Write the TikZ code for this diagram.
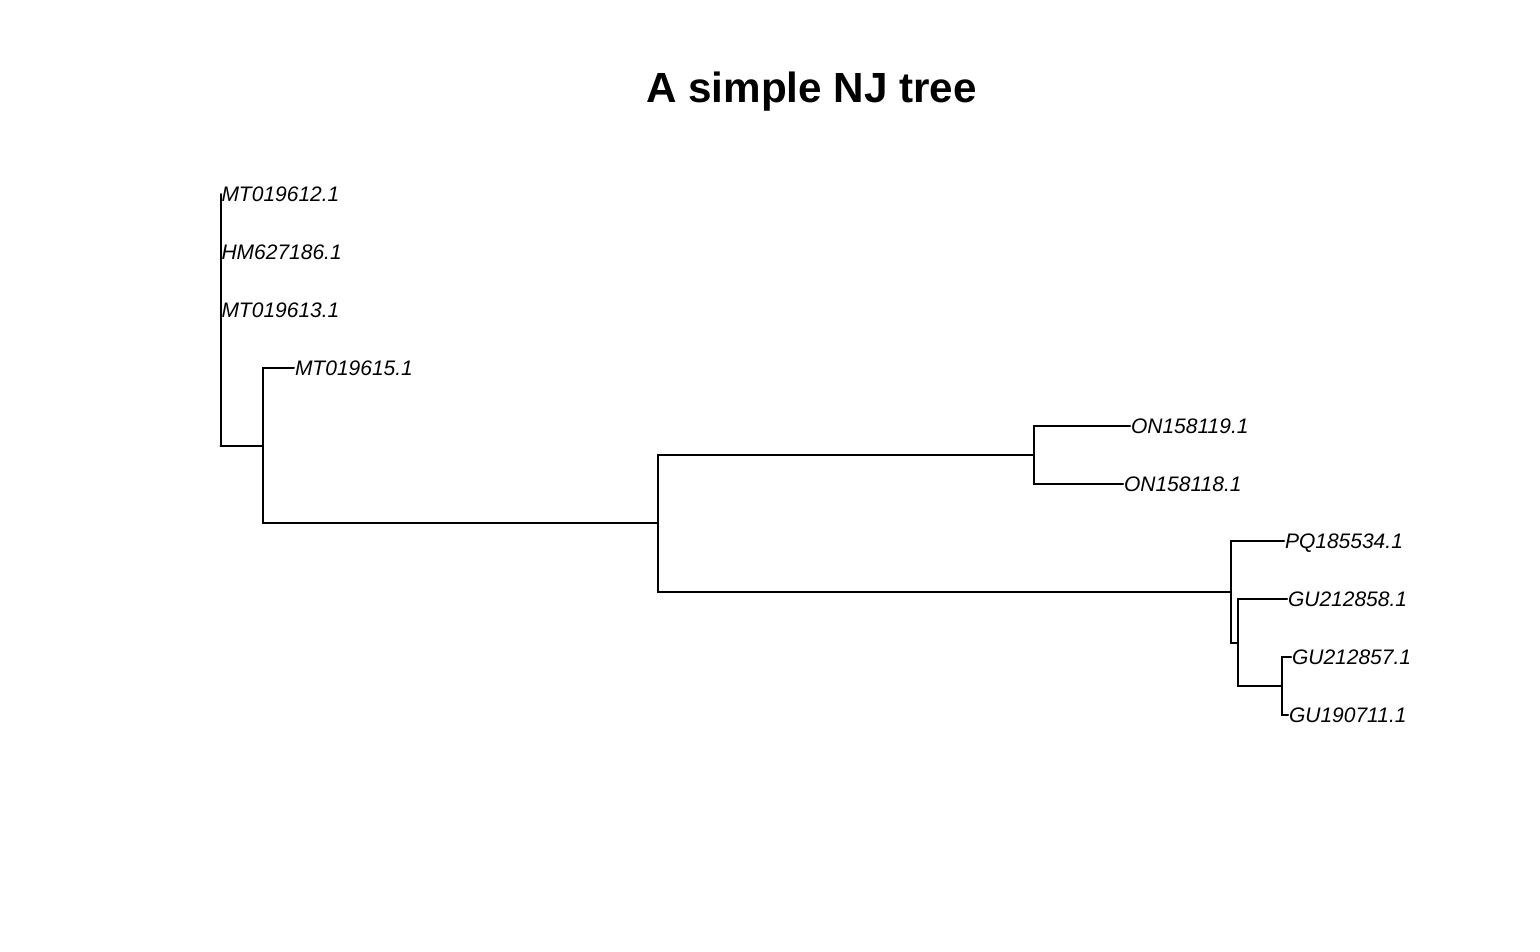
\documentclass[tikz,border=0pt]{standalone}
\usepackage{fontspec}
\setmainfont{Liberation Sans}
\begin{document}
\begin{tikzpicture}[x=1pt,y=-1pt,
  branch/.style={line width=2pt,line cap=round,line join=miter,black},
  lab/.style={anchor=base west,inner sep=0pt,outer sep=0pt,yshift=-7.5pt,xshift=1pt,
    font=\fontsize{21}{25}\selectfont\itshape},
  ttl/.style={anchor=base,inner sep=0pt,font=\fontsize{42.2}{50}\selectfont\bfseries}]
\useasboundingbox[fill=white] (0,0) rectangle (1540,951);
% internal nodes
\coordinate (root) at (220.5,445.5);
\coordinate (n1) at (263,445.5);
\coordinate (n2) at (658,523.3);
\coordinate (n3) at (1034,454.55);
\coordinate (n4) at (1230.5,592.05);
\coordinate (n5) at (1238,642.7);
\coordinate (n6) at (1281.5,686.15);
% tips
\coordinate (t1) at (220.5,194);
\coordinate (t2) at (220.5,251.9);
\coordinate (t3) at (220.5,309.8);
\coordinate (t4) at (294,367.7);
\coordinate (t5) at (1130,425.6);
\coordinate (t6) at (1123,483.5);
\coordinate (t7) at (1284,541.4);
\coordinate (t8) at (1287,599.3);
\coordinate (t9) at (1291,657.2);
\coordinate (t10) at (1288,715.1);
% branches
\draw[branch] (root) |- (t1);
\draw[branch] (root) |- (t2);
\draw[branch] (root) |- (t3);
\draw[branch] (root) |- (n1);
\draw[branch] (n1) |- (t4);
\draw[branch] (n1) |- (n2);
\draw[branch] (n2) |- (n3);
\draw[branch] (n2) |- (n4);
\draw[branch] (n3) |- (t5);
\draw[branch] (n3) |- (t6);
\draw[branch] (n4) |- (t7);
\draw[branch] (n4) |- (n5);
\draw[branch] (n5) |- (t8);
\draw[branch] (n5) |- (n6);
\draw[branch] (n6) |- (t9);
\draw[branch] (n6) |- (t10);
% labels
\node[lab] (l1) at (t1) {MT019612.1};
\node[lab] (l2) at (t2) {HM627186.1};
\node[lab] (l3) at (t3) {MT019613.1};
\node[lab] (l4) at (t4) {MT019615.1};
\node[lab] (l5) at (t5) {ON158119.1};
\node[lab] (l6) at (t6) {ON158118.1};
\node[lab] (l7) at (t7) {PQ185534.1};
\node[lab] (l8) at (t8) {GU212858.1};
\node[lab] (l9) at (t9) {GU212857.1};
\node[lab] (l10) at (t10) {GU190711.1};
% title
\node[ttl] (title) at (811.5,102) {A simple NJ tree};
\end{tikzpicture}
\end{document}
